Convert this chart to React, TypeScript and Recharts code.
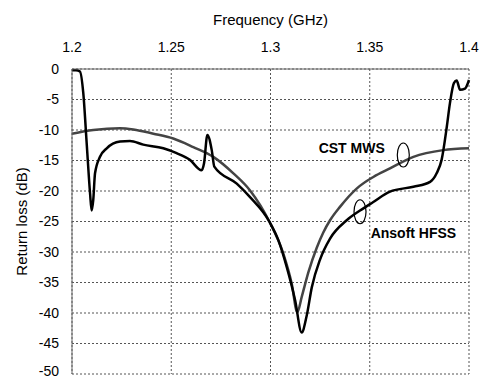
import { LineChart, Line, XAxis, YAxis, CartesianGrid, ReferenceDot } from 'recharts';

// Ansoft HFSS simulated return loss
const hfssFreq = [
  1.2, 1.202, 1.204, 1.2057, 1.2074, 1.2091, 1.2099, 1.2107, 1.2116, 1.2141, 1.2175, 1.2242,
  1.2292, 1.2359, 1.246, 1.2527, 1.2594, 1.2653, 1.2665, 1.2682, 1.2704, 1.2717, 1.283,
  1.2897, 1.2994, 1.304, 1.3082, 1.3124, 1.3157, 1.3182, 1.3208, 1.325, 1.33, 1.3384,
  1.3451, 1.3518, 1.3602, 1.372, 1.3804, 1.3837, 1.3862, 1.3888, 1.3904, 1.3924, 1.3938,
  1.3955, 1.398, 1.4,
];
const hfssLoss = [
  -0.2, -0.2, -0.4, -4.0, -12.2, -20.4, -23.2, -21.5, -17.1, -14.4, -13.0, -11.9,
  -11.8, -12.4, -13.0, -13.8, -14.9, -16.6, -15.5, -10.8, -13.3, -16.0, -18.8,
  -21.0, -25, -28.1, -32.5, -37.9, -43.2, -40.5, -35.8, -31.2, -27.8, -24.8,
  -23.2, -21.8, -20.1, -19.3, -18.5, -17.1, -14.9, -9.5, -5.6, -2.3, -1.9,
  -3.4, -3.2, -1.8,
];

// CST MWS simulated return loss
const cstFreq = [
  1.2, 1.2107, 1.2242, 1.2309, 1.241, 1.251, 1.2611, 1.2712, 1.2813, 1.2897,
  1.2994, 1.3065, 1.3107, 1.3135, 1.3157, 1.3191, 1.3233, 1.3266, 1.33, 1.335, 1.3434,
  1.3518, 1.3602, 1.372, 1.387, 1.4,
];
const cstLoss = [
  -10.6, -10.0, -9.7, -9.9, -10.6, -11.4, -12.8, -14.4, -17.1, -19.9,
  -25, -30.3, -35.2, -39.9, -37.4, -33.3, -29.3, -26.8, -24.8, -22.6, -19.6,
  -17.7, -16.3, -14.4, -13.3, -13.0,
];

const xTicks = [1.2, 1.25, 1.3, 1.35, 1.4];
const yTicks = [0, -5, -10, -15, -20, -25, -30, -35, -40, -45, -50];

const hfssData = hfssFreq.map((f, i) => ({ f, loss: hfssLoss[i] }));
const cstData = cstFreq.map((f, i) => ({ f, loss: cstLoss[i] }));

const font = '"Liberation Sans", Arial, sans-serif';

const Ellipse = (props: any) => (
  <ellipse cx={props.cx} cy={props.cy} rx={6} ry={12} fill="none" stroke="#000" strokeWidth={1.2} />
);

const makeLabel = (text: string) => (props: any) => (
  <text
    x={props.cx}
    y={props.cy}
    textAnchor="middle"
    dominantBaseline="central"
    fontFamily={font}
    fontSize={14}
    fontWeight="bold"
    fill="#000"
  >
    {text}
  </text>
);

export default function App() {
  return (
    <div style={{ position: 'absolute', left: 0, top: 0, background: '#fff', fontFamily: font }}>
      <LineChart width={483} height={379} data={hfssData} margin={{ top: 39, right: 14, bottom: 5, left: 10 }}>
        <CartesianGrid stroke="#555" strokeWidth={1} strokeDasharray="2 2" />
        <XAxis
          dataKey="f"
          type="number"
          orientation="top"
          domain={[1.2, 1.4]}
          ticks={xTicks}
          height={30}
          tickSize={0}
          tickMargin={17}
          stroke="#666"
          tick={{ fill: '#000', fontSize: 14, fontFamily: font }}
          tickFormatter={(v: number) => String(v)}
          allowDuplicatedCategory={false}
          label={{ value: 'Frequency (GHz)', position: 'top', offset: 14, fill: '#000', fontSize: 15, fontFamily: font }}
        />
        <YAxis
          type="number"
          domain={[-50, 0]}
          ticks={yTicks}
          width={62}
          tickSize={0}
          tickMargin={13}
          stroke="#666"
          tick={{ fill: '#000', fontSize: 14, fontFamily: font }}
          label={{
            content: (p: any) => {
              const vb = p.viewBox;
              const x = vb.x + 11;
              const y = vb.y + vb.height / 2;
              return (
                <text x={x} y={y} transform={`rotate(-90 ${x} ${y})`} textAnchor="middle" dominantBaseline="central" fill="#000" fontSize={15} fontFamily={font}>
                  Return loss (dB)
                </text>
              );
            },
          }}
        />
        <Line data={cstData} dataKey="loss" type="monotone" stroke="#444" strokeWidth={2.5} dot={false} isAnimationActive={false} />
        <Line data={hfssData} dataKey="loss" type="monotone" stroke="#000" strokeWidth={2.5} dot={false} isAnimationActive={false} />
        <ReferenceDot x={1.3669} y={-14.1} shape={Ellipse} />
        <ReferenceDot x={1.3451} y={-23.4} shape={Ellipse} />
        <ReferenceDot x={1.3409} y={-13.0} shape={makeLabel('CST MWS')} />
        <ReferenceDot x={1.372} y={-26.9} shape={makeLabel('Ansoft HFSS')} />
      </LineChart>
    </div>
  );
}
